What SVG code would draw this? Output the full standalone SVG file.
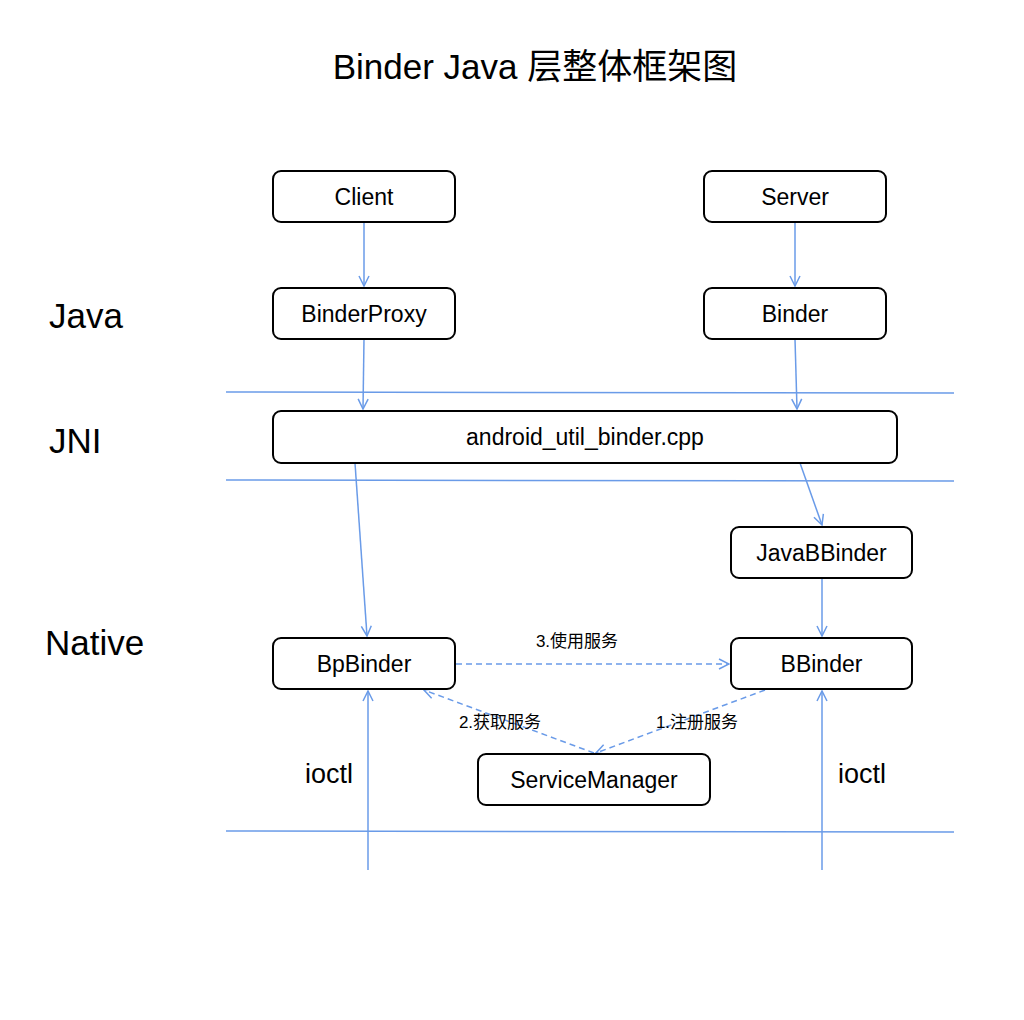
<svg xmlns="http://www.w3.org/2000/svg" width="1024" height="1020" viewBox="0 0 1024 1020">
<defs>
<style>
.box{fill:#fff;stroke:#000;stroke-width:2}
.t{font-family:"Liberation Sans",Arial,"Noto Sans CJK SC",sans-serif;font-size:23px;fill:#000;text-anchor:middle;dominant-baseline:central}
.lbl{font-family:"Liberation Sans",Arial,"Noto Sans CJK SC",sans-serif;font-size:17px;fill:#000;text-anchor:middle;dominant-baseline:central}
.layer{font-family:"Liberation Sans",Arial,sans-serif;font-size:35px;fill:#000}
.io{font-family:"Liberation Sans",Arial,sans-serif;font-size:27px;fill:#000;text-anchor:middle}
.ln{stroke:#6A9BE8;stroke-width:1.5;fill:none}
.dash{stroke:#6A9BE8;stroke-width:1.5;fill:none;stroke-dasharray:6,4}
</style>
<marker id="arr" viewBox="0 0 12 12" refX="11" refY="6" markerWidth="12" markerHeight="12" markerUnits="userSpaceOnUse" orient="auto">
<path d="M1,1 L11,6 L1,11" fill="none" stroke="#6A9BE8" stroke-width="1.5"/>
</marker>
</defs>
<rect width="1024" height="1020" fill="#fff"/>
<text x="535" y="66" font-family="'Liberation Sans',Arial,'Noto Sans CJK SC',sans-serif" font-size="35" text-anchor="middle" dominant-baseline="central">Binder Java 层整体框架图</text>

<text class="layer" x="49" y="328">Java</text>
<text class="layer" x="49" y="453">JNI</text>
<text class="layer" x="45" y="655">Native</text>

<g id="layers">
<line class="ln" x1="226" y1="392" x2="954" y2="393"/>
<line class="ln" x1="226" y1="480" x2="954" y2="481"/>
<line class="ln" x1="226" y1="831" x2="954" y2="832"/>
</g>

<g id="connectors">
<line class="ln" x1="364" y1="222" x2="364" y2="286" marker-end="url(#arr)"/>
<line class="ln" x1="795" y1="222" x2="795" y2="286" marker-end="url(#arr)"/>
<line class="ln" x1="364" y1="339" x2="363" y2="409" marker-end="url(#arr)"/>
<line class="ln" x1="795" y1="339" x2="797" y2="409" marker-end="url(#arr)"/>
<line class="ln" x1="355" y1="463" x2="367" y2="636" marker-end="url(#arr)"/>
<line class="ln" x1="800" y1="463" x2="822" y2="525" marker-end="url(#arr)"/>
<line class="ln" x1="822" y1="578" x2="822" y2="636" marker-end="url(#arr)"/>
<line class="dash" x1="456" y1="664" x2="729" y2="664" marker-end="url(#arr)"/>
<line class="dash" x1="765" y1="690" x2="596" y2="753" marker-end="url(#arr)"/>
<line class="dash" x1="594" y1="753" x2="424" y2="690" marker-end="url(#arr)"/>
<line class="ln" x1="368" y1="870" x2="368" y2="691" marker-end="url(#arr)"/>
<line class="ln" x1="822" y1="870" x2="822" y2="691" marker-end="url(#arr)"/>
<text class="lbl" x="577" y="641">3.使用服务</text>
<text class="lbl" x="500" y="722">2.获取服务</text>
<text class="lbl" x="697" y="722">1.注册服务</text>
<text class="io" x="329" y="783">ioctl</text>
<text class="io" x="862" y="783">ioctl</text>
</g>

<g id="client"><rect class="box" x="273" y="171" width="182" height="51" rx="8"/><text class="t" x="364" y="196.5">Client</text></g>
<g id="server"><rect class="box" x="704" y="171" width="182" height="51" rx="8"/><text class="t" x="795" y="196.5">Server</text></g>
<g id="binderproxy"><rect class="box" x="273" y="288" width="182" height="51" rx="8"/><text class="t" x="364" y="313.5">BinderProxy</text></g>
<g id="binder"><rect class="box" x="704" y="288" width="182" height="51" rx="8"/><text class="t" x="795" y="313.5">Binder</text></g>
<g id="jni"><rect class="box" x="273" y="411" width="624" height="52" rx="8"/><text class="t" x="585" y="437">android_util_binder.cpp</text></g>
<g id="javabbinder"><rect class="box" x="731" y="527" width="181" height="51" rx="8"/><text class="t" x="821.5" y="552.5">JavaBBinder</text></g>
<g id="bpbinder"><rect class="box" x="273" y="638" width="182" height="51" rx="8"/><text class="t" x="364" y="663.5">BpBinder</text></g>
<g id="bbinder"><rect class="box" x="731" y="638" width="181" height="51" rx="8"/><text class="t" x="821.5" y="663.5">BBinder</text></g>
<g id="servicemanager"><rect class="box" x="478" y="754" width="232" height="51" rx="8"/><text class="t" x="594" y="779.5">ServiceManager</text></g>
</svg>
